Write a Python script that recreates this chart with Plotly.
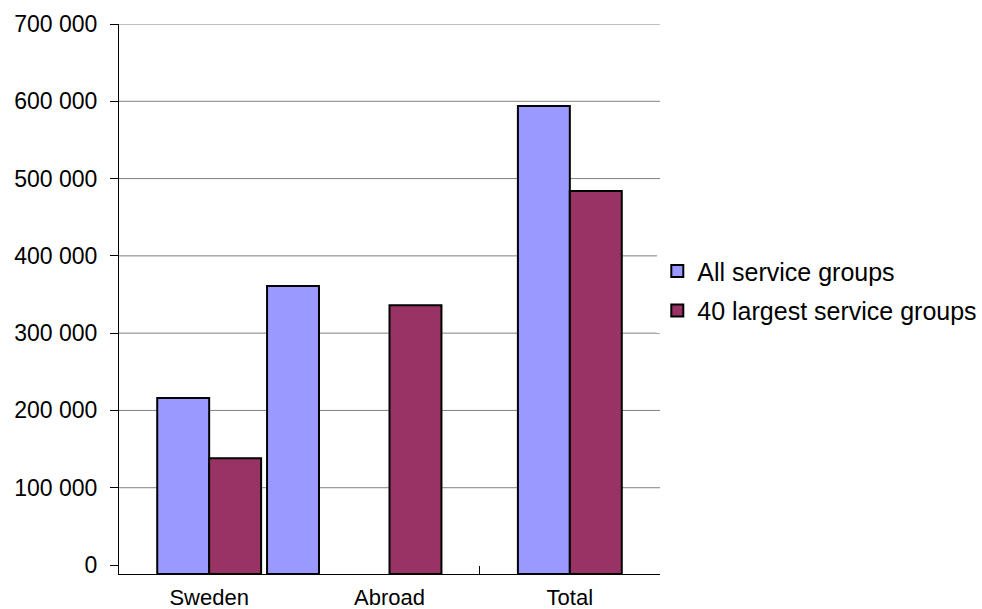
import plotly.graph_objects as go

# Employees by location, all service groups vs. the 40 largest
categories = ["Sweden", "Abroad", "Total"]
all_groups = [216000, 361000, 594000]
largest_40 = [138000, 336000, 484000]
series_names = ["All service groups", "40 largest service groups"]
y_ticks = [0, 100000, 200000, 300000, 400000, 500000, 600000, 700000]

# The category axis crosses the value axis slightly below zero
AXIS_CROSS = -11640
BAR_W = 0.288

FONT = "Liberation Sans, Arial, sans-serif"

fig = go.Figure()
fig.add_trace(go.Bar(
    name=series_names[0],
    legendgroup="a",
    x=categories,
    y=[v - AXIS_CROSS for v in all_groups],
    base=AXIS_CROSS,
    width=BAR_W,
    offset=[-BAR_W, -0.679, -BAR_W],
    marker=dict(color="#9999FF", line=dict(color="#000000", width=2)),
    customdata=all_groups,
    hovertemplate="%{x}: %{customdata:,}<extra></extra>",
))
fig.add_trace(go.Bar(
    name=series_names[1],
    legendgroup="b",
    x=categories,
    y=[v - AXIS_CROSS for v in largest_40],
    base=AXIS_CROSS,
    width=BAR_W,
    offset=[0, 0, 0],
    marker=dict(color="#993366", line=dict(color="#000000", width=2)),
    customdata=largest_40,
    hovertemplate="%{x}: %{customdata:,}<extra></extra>",
))

# Horizontal gridlines (none at zero)
for t in y_ticks[1:]:
    fig.add_shape(type="line", xref="paper", yref="y", x0=0, x1=1, y0=t, y1=t,
                  line=dict(color="#808080", width=1), layer="below")

fig.update_layout(
    width=982, height=609,
    margin=dict(l=119, r=322, t=24, b=35, autoexpand=False),
    paper_bgcolor="white", plot_bgcolor="white",
    separators=". ",
    font=dict(family=FONT, size=22, color="#000000"),
    barmode="group",
    showlegend=True,
    legend=dict(x=0.995, xanchor="left", y=0.515, yanchor="middle",
                font=dict(family=FONT, size=25, color="#000000"),
                tracegroupgap=4, itemwidth=30),
)
fig.update_xaxes(
    type="category", range=[-0.5, 2.5],
    showline=True, linecolor="#000000", linewidth=1,
    ticks="inside", ticklen=8, tickcolor="#000000", tickson="boundaries",
    showgrid=False, zeroline=False, layer="below traces",
    ticklabelstandoff=4,
    tickfont=dict(family=FONT, size=22, color="#000000"),
)
fig.update_yaxes(
    range=[AXIS_CROSS, 700000],
    tickvals=y_ticks, tickformat=",d",
    showline=True, linecolor="#000000", linewidth=1,
    ticks="outside", ticklen=8, tickcolor="#000000",
    showgrid=False, zeroline=False,
    ticklabelstandoff=8,
    tickfont=dict(family=FONT, size=23, color="#000000"),
)

fig.write_html("out.html")
